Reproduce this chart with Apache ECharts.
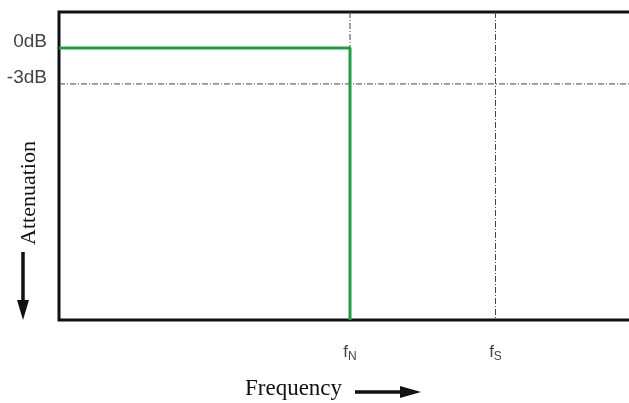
<!DOCTYPE html>
<html>
<head>
<meta charset="utf-8">
<script src="https://cdn.jsdelivr.net/npm/echarts@6/dist/echarts.min.js"></script>
<style>
  html, body { margin: 0; padding: 0; background: #fff; }
  #chart { width: 629px; height: 403px; }
</style>
</head>
<body>
<div id="chart"></div>
<script>
// axis ranges (frequency in units of fS - fN, attenuation in dB)
const xMin = 0, xMax = 4;
const yMin = -22.7, yMax = 3;

// tick positions and labels
const freqTicks = [2, 3];
const freqSubs = ['N', 'S'];
const dbTicks = [0, -3];
const dbLabels = ['0dB', '-3dB'];

// ideal brick-wall response: flat at 0dB up to fN, then straight down
const responseX = [0, 2, 2];
const responseY = [0, 0, yMin];

const dashDot = { color: '#444', width: 1, type: [6, 2, 1, 2] };

const chart = echarts.init(document.getElementById('chart'));

chart.setOption({
  animation: false,
  grid: {
    left: 59, right: -12, top: 12, bottom: 83,
    outerBoundsMode: 'none',
    show: true, borderColor: '#111', borderWidth: 3, backgroundColor: '#fff'
  },
  xAxis: {
    type: 'value', min: xMin, max: xMax,
    axisLine: { show: false }, axisTick: { show: false }, splitLine: { show: false },
    axisLabel: {
      customValues: freqTicks,
      margin: 22,
      formatter: function (v) {
        return '{f|f}{s|' + freqSubs[freqTicks.indexOf(v)] + '}';
      },
      rich: {
        f: { fontFamily: 'Liberation Sans, Arial', fontSize: 17, color: '#444' },
        s: { fontFamily: 'Liberation Sans, Arial', fontSize: 12, color: '#444', verticalAlign: 'bottom', padding: [9, 0, 0, 0] }
      }
    }
  },
  yAxis: {
    type: 'value', min: yMin, max: yMax,
    axisLine: { show: false }, axisTick: { show: false }, splitLine: { show: false },
    axisLabel: {
      customValues: dbTicks,
      margin: 12,
      verticalAlign: 'bottom',
      lineHeight: 12,
      fontFamily: 'Liberation Sans, Arial', fontSize: 19, color: '#444',
      formatter: function (v) { return dbLabels[dbTicks.indexOf(v)]; }
    }
  },
  series: [
    {
      type: 'line', symbol: 'none', silent: true,
      data: [[freqTicks[0], yMax], [freqTicks[0], yMin]],
      lineStyle: dashDot
    },
    {
      type: 'line', symbol: 'none', silent: true,
      data: [[freqTicks[1], yMax], [freqTicks[1], yMin]],
      lineStyle: dashDot
    },
    {
      type: 'line', symbol: 'none', silent: true,
      data: [[xMin, dbTicks[1]], [xMax, dbTicks[1]]],
      lineStyle: dashDot
    },
    {
      type: 'line', symbol: 'none', silent: true,
      data: responseX.map(function (x, i) { return [x, responseY[i]]; }),
      lineStyle: { color: '#239b45', width: 3 }
    }
  ],
  graphic: [
    {
      type: 'text', x: 245, y: 389,
      style: { text: 'Frequency', font: '23px "Liberation Serif", serif', fill: '#111', verticalAlign: 'middle' }
    },
    {
      type: 'line', shape: { x1: 355, y1: 392, x2: 405, y2: 392 },
      style: { stroke: '#111', lineWidth: 3.5 }
    },
    {
      type: 'polygon', shape: { points: [[400, 386], [421, 392], [400, 398]] },
      style: { fill: '#111' }
    },
    {
      type: 'text', x: 18, y: 193, rotation: Math.PI / 2,
      style: { text: 'Attenuation', font: '22px "Liberation Serif", serif', fill: '#111', align: 'center', verticalAlign: 'top' }
    },
    {
      type: 'line', shape: { x1: 23, y1: 252, x2: 23, y2: 305 },
      style: { stroke: '#111', lineWidth: 3.5 }
    },
    {
      type: 'polygon', shape: { points: [[17, 300], [23, 320], [29, 300]] },
      style: { fill: '#111' }
    }
  ]
});
</script>
</body>
</html>
